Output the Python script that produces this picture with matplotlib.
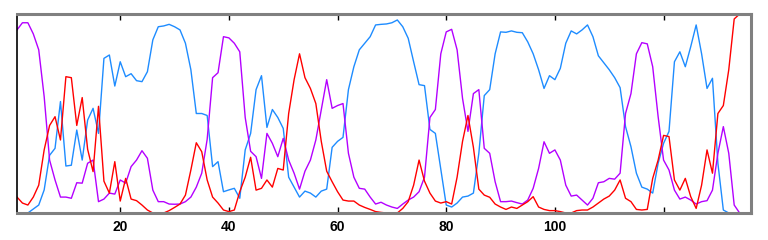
import matplotlib
matplotlib.use("Agg")
import matplotlib.pyplot as plt
import numpy as np

x = list(range(1, 137))

blue = [0.0, 0.0, 0.0, 0.02, 0.04, 0.116, 0.29, 0.325, 0.56, 0.236,
        0.24, 0.417, 0.266, 0.467, 0.526, 0.40, 0.777, 0.794, 0.638, 0.76,
        0.685, 0.70, 0.665, 0.66, 0.71, 0.87, 0.936, 0.94, 0.948, 0.936,
        0.92, 0.853, 0.72, 0.50, 0.50, 0.49, 0.233, 0.258, 0.107, 0.116,
        0.124, 0.074, 0.317, 0.40, 0.62, 0.69, 0.43, 0.52, 0.48, 0.425,
        0.18, 0.13, 0.08, 0.11, 0.10, 0.08, 0.11, 0.12, 0.33, 0.36,
        0.38, 0.62, 0.735, 0.82, 0.853, 0.886, 0.945, 0.948, 0.95, 0.956,
        0.97, 0.936, 0.878, 0.76, 0.645, 0.64, 0.42, 0.40, 0.22, 0.04,
        0.03, 0.05, 0.08, 0.085, 0.10, 0.30, 0.59, 0.62, 0.80, 0.91,
        0.908, 0.915, 0.908, 0.906, 0.86, 0.80, 0.72, 0.626, 0.69, 0.67,
        0.727, 0.853, 0.915, 0.90, 0.92, 0.945, 0.886, 0.79, 0.755, 0.72,
        0.68, 0.63, 0.434, 0.333, 0.20, 0.13, 0.12, 0.10, 0.25, 0.35,
        0.41, 0.76, 0.81, 0.735, 0.836, 0.945, 0.80, 0.626, 0.677, 0.25,
        0.015, 0.0, 0.0, 0.0, 0.0, 0.0]

purple = [0.92, 0.956, 0.956, 0.90, 0.82, 0.585, 0.266, 0.166, 0.08, 0.08,
          0.074, 0.152, 0.15, 0.25, 0.266, 0.057, 0.07, 0.10, 0.095, 0.166,
          0.15, 0.233, 0.266, 0.313, 0.275, 0.115, 0.057, 0.057, 0.045, 0.044,
          0.045, 0.057, 0.08, 0.13, 0.20, 0.37, 0.68, 0.705, 0.886, 0.88,
          0.853, 0.81, 0.48, 0.31, 0.283, 0.174, 0.40, 0.35, 0.283, 0.375,
          0.266, 0.20, 0.12, 0.21, 0.266, 0.367, 0.52, 0.67, 0.526, 0.54,
          0.55, 0.30, 0.18, 0.124, 0.12, 0.08, 0.045, 0.054, 0.04, 0.03,
          0.023, 0.045, 0.065, 0.08, 0.107, 0.18, 0.48, 0.52, 0.80, 0.91,
          0.923, 0.82, 0.576, 0.41, 0.60, 0.62, 0.325, 0.30, 0.157, 0.057,
          0.057, 0.06, 0.052, 0.045, 0.065, 0.124, 0.224, 0.358, 0.30, 0.317,
          0.266, 0.14, 0.085, 0.09, 0.065, 0.04, 0.074, 0.152, 0.157, 0.174,
          0.17, 0.20, 0.50, 0.60, 0.80, 0.856, 0.85, 0.735, 0.484, 0.266,
          0.216, 0.115, 0.07, 0.08, 0.065, 0.045, 0.057, 0.062, 0.115, 0.30,
          0.434, 0.30, 0.04, 0.0, 0.0, 0.0]

red = [0.08, 0.05, 0.04, 0.08, 0.14, 0.317, 0.44, 0.484, 0.367, 0.685,
       0.68, 0.44, 0.58, 0.32, 0.208, 0.536, 0.16, 0.10, 0.258, 0.06,
       0.174, 0.07, 0.062, 0.04, 0.015, 0.0, 0.0, 0.0, 0.012, 0.028,
       0.045, 0.09, 0.216, 0.353, 0.308, 0.166, 0.08, 0.05, 0.015, 0.007,
       0.015, 0.107, 0.18, 0.28, 0.115, 0.124, 0.166, 0.13, 0.224, 0.216,
       0.50, 0.67, 0.80, 0.68, 0.626, 0.55, 0.36, 0.21, 0.157, 0.107,
       0.065, 0.06, 0.06, 0.04, 0.028, 0.018, 0.007, 0.003, 0.0, 0.0,
       0.0, 0.023, 0.057, 0.14, 0.266, 0.16, 0.10, 0.06, 0.05, 0.057,
       0.045, 0.18, 0.36, 0.49, 0.33, 0.12, 0.09, 0.079, 0.045, 0.03,
       0.018, 0.03, 0.023, 0.04, 0.057, 0.082, 0.03, 0.018, 0.012, 0.012,
       0.007, 0.0, 0.0, 0.012, 0.015, 0.015, 0.03, 0.05, 0.07, 0.085,
       0.115, 0.166, 0.074, 0.057, 0.018, 0.015, 0.018, 0.174, 0.266, 0.39,
       0.384, 0.166, 0.115, 0.174, 0.082, 0.023, 0.14, 0.317, 0.20, 0.50,
       0.54, 0.72, 0.975, 1.0, 1.0, 1.0]

xticks = [20, 40, 60, 80, 100, 120]
xticklabels = ["20", "40", "60", "80", "100", ""]

fig = plt.figure(figsize=(7.68, 2.40), dpi=100)
ax = fig.add_axes([17/768, 27/240, (750.5-17)/768, (213-14)/240])

ax.plot(x, blue, color="#1e8cff", lw=1.0)
ax.plot(x, purple, color="#b400ff", lw=1.0)
ax.plot(x, red, color="#ff0000", lw=1.0)

ax.set_xlim(1, 136)
ax.set_ylim(0, 1)
ax.set_xticks(xticks)
ax.set_xticklabels(xticklabels, fontsize=10, fontweight="bold",
                   family=["Liberation Sans", "DejaVu Sans"])
ax.set_yticks([])
ax.tick_params(axis="x", direction="in", length=4, width=1, pad=5,
               top=True, bottom=True, colors="black")

for side in ["top", "bottom", "right"]:
    ax.spines[side].set_color("#808080")
    ax.spines[side].set_linewidth(2.2)
ax.spines["left"].set_color("black")
ax.spines["left"].set_linewidth(1.2)

fig.savefig("out.png", dpi=100)
